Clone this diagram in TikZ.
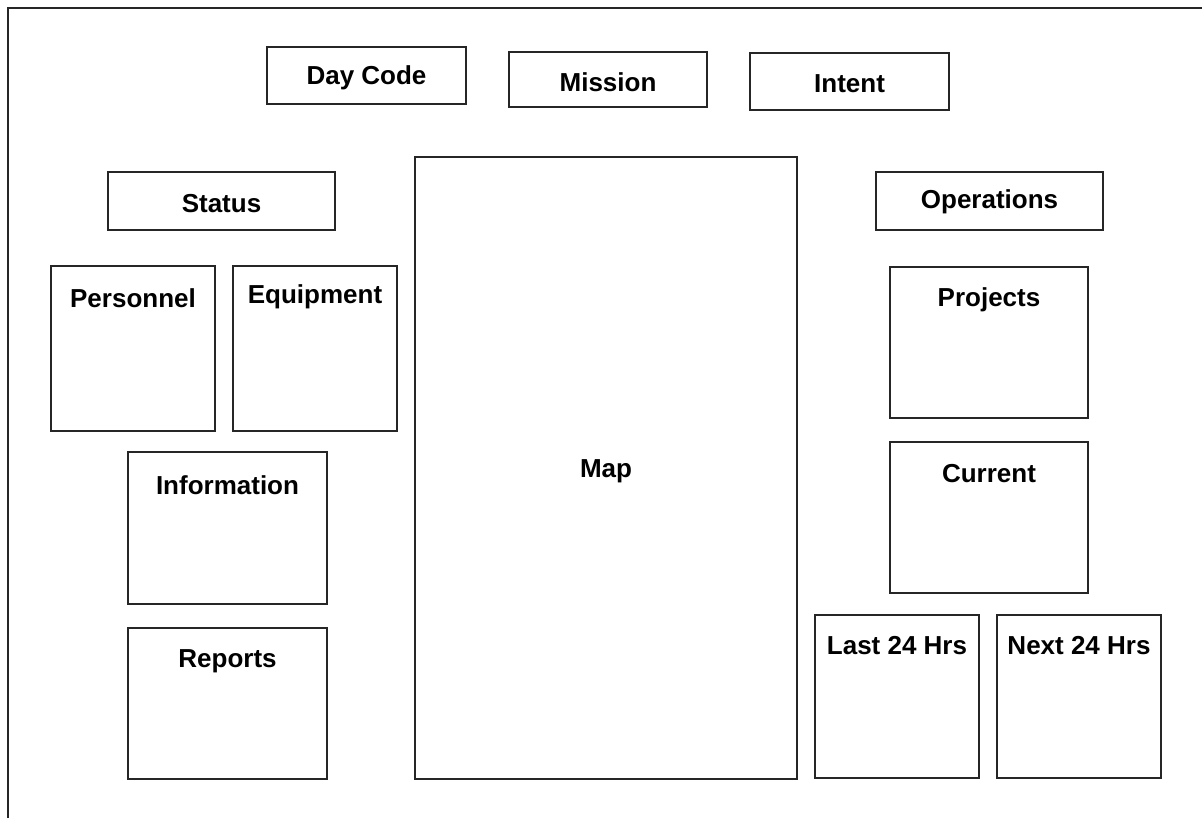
\documentclass[tikz,border=0pt]{standalone}
\usepackage{fontspec}
\setmainfont{Liberation Sans}
\begin{document}
\begin{tikzpicture}[x=0.5pt,y=-0.5pt,
  frame/.style={draw=black!85,line width=1.25pt},
  bx/.style 2 args={draw=black!85,line width=1.25pt,inner sep=0pt,
     minimum width=#1*0.5pt,minimum height=#2*0.5pt},
  lbl/.style={inner sep=0pt,yshift=-1pt,font=\fontsize{13pt}{15pt}\selectfont\bfseries}]
\useasboundingbox (0,0) rectangle (1202,818);
\draw[frame] (8,818) -- (8,8) -- (1202,8);
% top row
\node[bx={199}{57}] (daycode) at (366.5,75.5) {};
\node[lbl] (daycodeT) at (366.5,76) {Day Code};
\node[bx={198}{55}] (mission) at (608,79.5) {};
\node[lbl] (missionT) at (608,80) {Mission};
\node[bx={199}{57}] (intent) at (849.5,81.5) {};
\node[lbl] (intentT) at (849.5,82) {Intent};
% headers
\node[bx={227}{58}] (status) at (221.5,201) {};
\node[lbl] (statusT) at (221.5,202) {Status};
\node[bx={227}{58}] (operations) at (989.5,201) {};
\node[lbl] (operationsT) at (989.5,200) {Operations};
% map
\node[bx={382}{622}] (map) at (606,468) {};
\node[lbl] (mapT) at (606,469) {Map};
% left boxes
\node[bx={164}{165}] (personnel) at (133,348.5) {};
\node[lbl] (personnelT) at (133,296) {Personnel};
\node[bx={164}{165}] (equipment) at (315,348.5) {};
\node[lbl] (equipmentT) at (315,295) {Equipment};
\node[bx={199}{152}] (information) at (227.5,528) {};
\node[lbl] (informationT) at (227.5,483) {Information};
\node[bx={199}{151}] (reports) at (227.5,703.5) {};
\node[lbl] (reportsT) at (227.5,659) {Reports};
% right boxes
\node[bx={198}{151}] (projects) at (989,342.5) {};
\node[lbl] (projectsT) at (989,298) {Projects};
\node[bx={198}{151}] (current) at (989,517.5) {};
\node[lbl] (currentT) at (989,472) {Current};
\node[bx={164}{163}] (last) at (897,696.5) {};
\node[lbl] (lastT) at (897,644) {Last 24 Hrs};
\node[bx={164}{163}] (next) at (1079,696.5) {};
\node[lbl] (nextT) at (1079,644) {Next 24 Hrs};
\end{tikzpicture}
\end{document}
